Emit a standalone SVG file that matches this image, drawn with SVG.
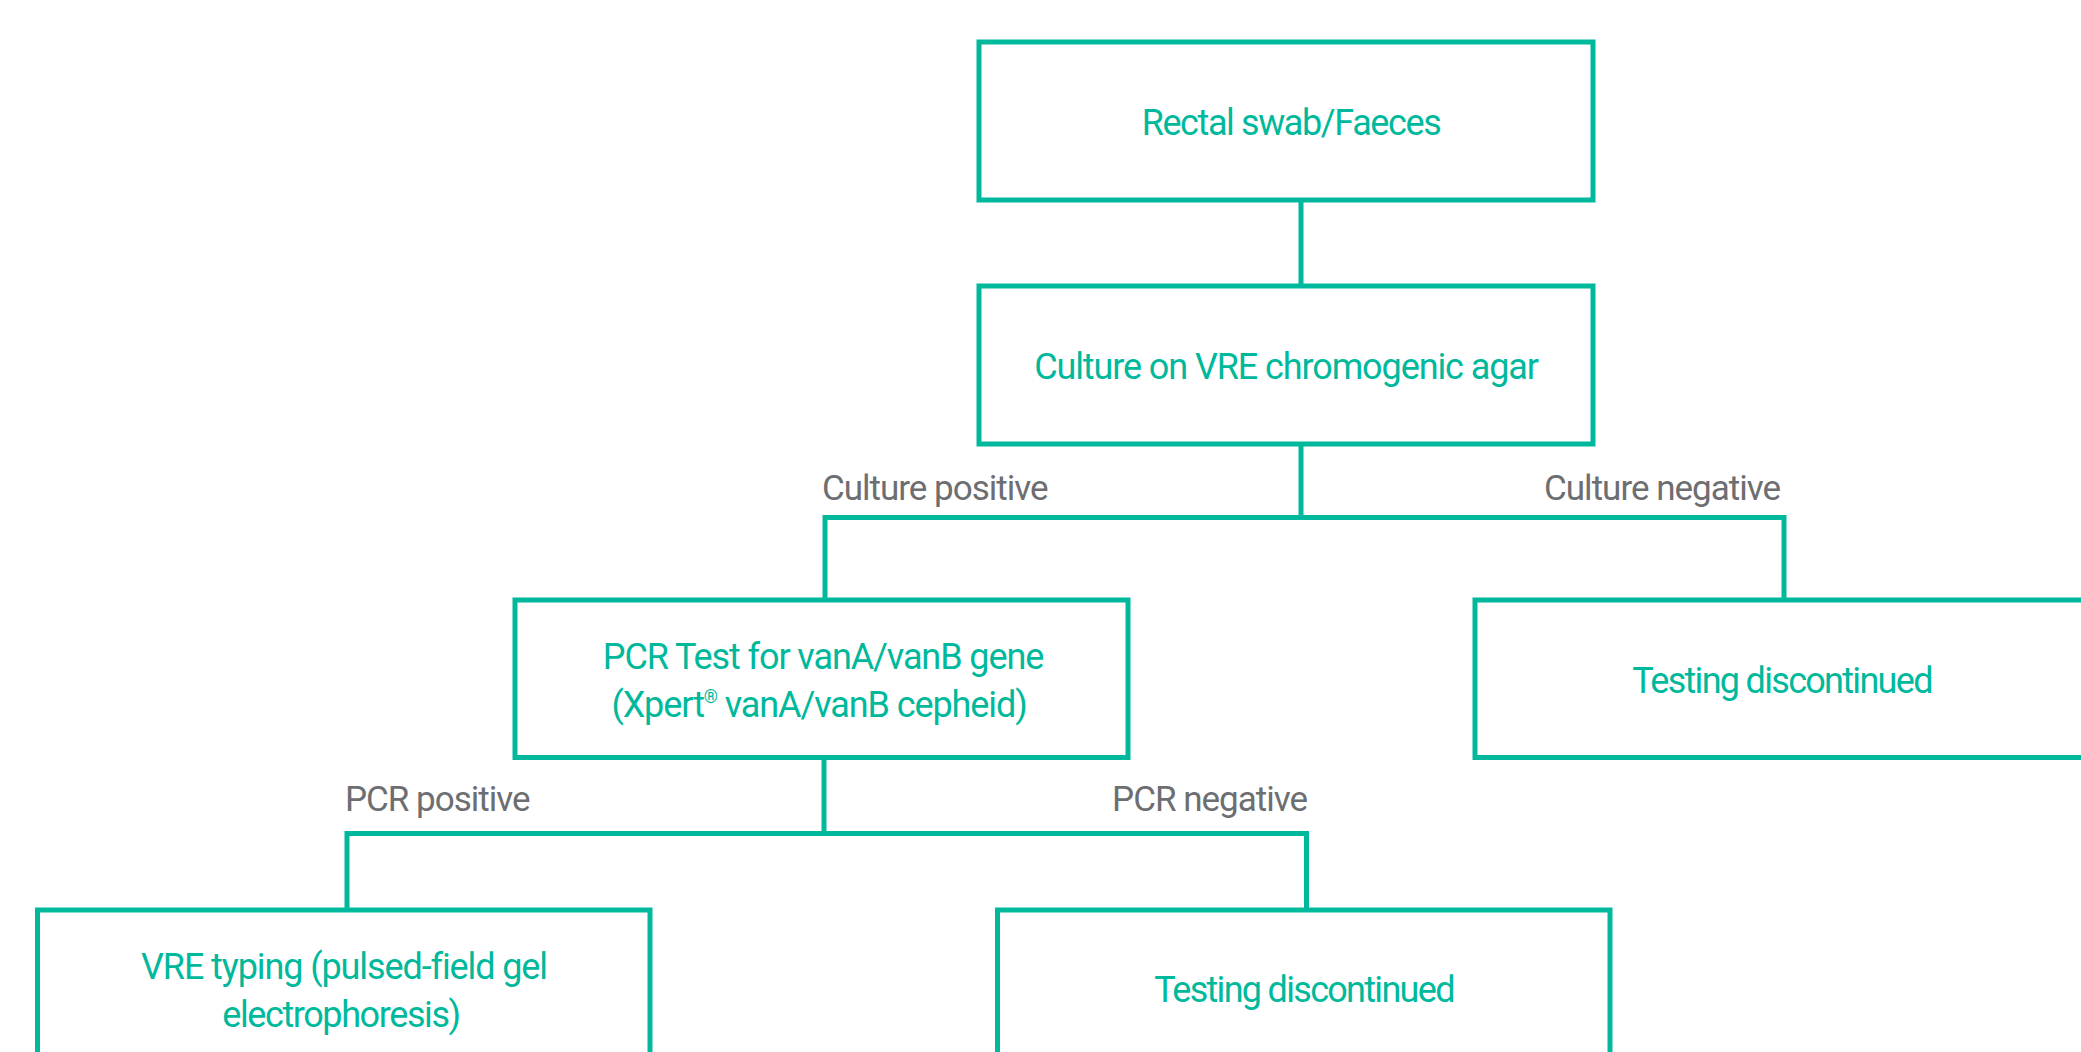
<svg xmlns="http://www.w3.org/2000/svg" width="2081" height="1052" viewBox="0 0 2081 1052">
<style>
.box{fill:#ffffff;stroke:#00B99C;stroke-width:5}
.conn{fill:none;stroke:#00B99C;stroke-width:5;stroke-linejoin:miter}
.t{font-family:Roboto,"Liberation Sans",sans-serif;font-size:36px;fill:#00B99C;text-anchor:middle;letter-spacing:-1.1px}
.td{letter-spacing:-1.7px}
.lbl{font-family:Roboto,"Liberation Sans",sans-serif;font-size:35px;fill:#6D6E71;letter-spacing:-1px}
</style>
<rect width="2081" height="1052" fill="#ffffff"/>
<g id="connectors">
<line class="conn" x1="1301" y1="200" x2="1301" y2="286"/>
<line class="conn" x1="1301" y1="444" x2="1301" y2="517.5"/>
<polyline class="conn" points="825,600 825,517.5 1784,517.5 1784,600"/>
<line class="conn" x1="824" y1="757.5" x2="824" y2="833.5"/>
<polyline class="conn" points="347,910 347,833.5 1306.5,833.5 1306.5,910"/>
<text class="lbl" x="822" y="500">Culture positive</text>
<text class="lbl" x="1780" y="500" text-anchor="end">Culture negative</text>
<text class="lbl" x="345" y="811">PCR positive</text>
<text class="lbl" x="1307" y="811" text-anchor="end">PCR negative</text>
</g>
<g id="n1">
<rect class="box" x="979" y="42" width="614" height="158"/>
<text class="t" x="1291" y="135" style="letter-spacing:-1.4px">Rectal swab/Faeces</text>
</g>
<g id="n2">
<rect class="box" x="979" y="286" width="614" height="158"/>
<text class="t" x="1286" y="379">Culture on VRE chromogenic agar</text>
</g>
<g id="n3">
<rect class="box" x="515" y="600" width="613" height="157.5"/>
<text class="t" x="823" y="668.5">PCR Test for vanA/vanB gene</text>
<text class="t" x="819" y="716.5">(Xpert<tspan font-size="18" dy="-14">®</tspan><tspan dy="14"> vanA/vanB cepheid)</tspan></text>
</g>
<g id="n4">
<rect class="box" x="1475" y="600" width="614" height="157.5"/>
<text class="t td" x="1782" y="692.5">Testing discontinued</text>
</g>
<g id="n5">
<rect class="box" x="37.5" y="910" width="612.5" height="158"/>
<text class="t" x="344" y="978.5">VRE typing (pulsed-field gel</text>
<text class="t" x="341" y="1026.5" style="letter-spacing:-1.4px">electrophoresis)</text>
</g>
<g id="n6">
<rect class="box" x="997.5" y="910" width="612.5" height="158"/>
<text class="t td" x="1304" y="1002">Testing discontinued</text>
</g>
</svg>
